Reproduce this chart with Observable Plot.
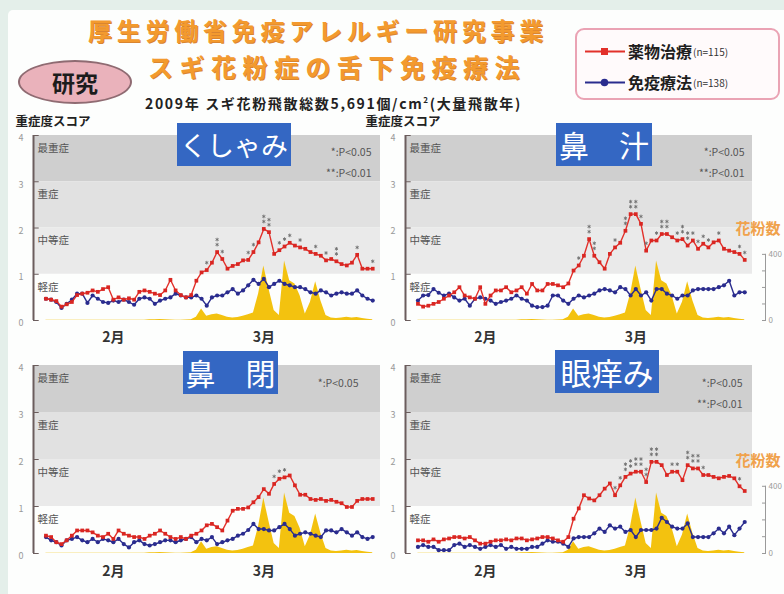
<!DOCTYPE html>
<html lang="ja">
<head>
<meta charset="utf-8">
<script src="https://cdn.jsdelivr.net/npm/d3@7"></script>
<script src="https://cdn.jsdelivr.net/npm/@observablehq/plot@0.6"></script>
<style>
html,body{margin:0;padding:0;background:#e4efea;}
#wrap{position:relative;width:784px;height:594px;overflow:hidden;background:#e4efea;font-family:"Noto Sans CJK JP","Noto Sans",sans-serif;}
#inner{position:absolute;left:8px;top:10px;width:776px;height:584px;background:#fdfefd;border-top-left-radius:5px;}
.abs{position:absolute;white-space:nowrap;}
.t1{left:88px;top:17px;font-size:24px;font-weight:700;color:#f39a2e;line-height:26px;text-shadow:1px 1px 0 #d98530;}
.t2{left:148px;top:52px;font-size:25px;font-weight:700;color:#f39a2e;line-height:28px;text-shadow:1px 1px 0 #d98530;}
.sub{left:145px;top:91px;font-size:14px;font-weight:700;color:#222;line-height:17px;}
.badge{left:18px;top:60px;width:110px;height:40px;border-radius:50%;background:#eab2bb;border:2px solid #8f6b72;text-align:center;line-height:40px;font-size:23px;font-weight:700;color:#1c1c1c;}
.legend{left:575px;top:28px;width:201px;height:68px;border:2px solid #eaa3b4;border-radius:9px;background:#fffafb;}
.lrow{position:absolute;left:8px;height:20px;display:flex;align-items:center;}
.lname{font-size:16px;font-weight:700;color:#1e1e1e;margin-left:3px;}
.ln{font-size:10px;color:#333;margin-left:1px;}
.tbox{background:#3467c3;color:#fff;text-align:center;height:43px;line-height:43px;}
.panel{position:absolute;}
</style>
</head>
<body>
<div id="wrap">
  <div id="inner"></div>
  <div id="plots"></div>
  <div class="abs t1" id="t1">厚生労働省免疫アレルギー研究事業</div>
  <div class="abs t2" id="t2">スギ花粉症の舌下免疫療法</div>
  <div class="abs sub" id="sub">2009年 スギ花粉飛散総数5,691個/cm<sup style="font-size:8px">2</sup>(大量飛散年)</div>
  <div class="abs badge">研究</div>
  <div class="abs legend" id="legend"></div>
  <div id="boxes"></div>
</div>
<script>
// ---------- data ----------
const days = d3.range(64); // daily index from early February
const monthTicks = [13, 42];
const monthLabels = ["2月", "3月"];
const yTicks = [0, 1, 2, 3, 4];

const bandLo = [3, 2, 1];
const bandHi = [4, 3, 2];
const bandFill = ["#cfcfcf", "#e1e1e1", "#eaeaea"];
const severityLabels = ["最重症", "重症", "中等症", "軽症"];
const severityAt = [4, 3, 2, 1];

const seriesNames = ["薬物治療", "免疫療法"];
const seriesN = ["(n=115)", "(n=138)"];
const RED = "#e2302a", BLUE = "#2a2c8e";

// pollen counts (grains/cm2 per day)
const pollen = [2,2,2,2,2,2,2,2,2,2,
  2,2,2,2,2,2,2,2,2,2,
  4,5,6,5,3,2,2,3,5,20,
  70,25,35,40,30,20,15,18,25,35,
  45,160,330,190,60,30,360,240,220,150,
  40,110,235,120,30,15,12,15,20,15,
  18,12,8,5];
const pollenTicks = [0, 100, 200, 300, 400];
const pollenLabelled = [0, 400];
const pollenUnit = 1.43 / 400; // right-axis 400 sits at score 1.43

const kushamiRed = [0.47,0.45,0.42,0.30,0.35,0.40,0.55,0.58,0.60,0.65,
  0.62,0.68,0.72,0.45,0.50,0.45,0.48,0.45,0.62,0.65,
  0.62,0.58,0.55,0.65,0.88,0.65,0.55,0.50,0.55,0.86,
  1.04,1.09,1.25,1.48,1.33,1.12,1.18,1.22,1.30,1.31,
  1.48,1.69,1.98,1.91,1.44,1.52,1.60,1.68,1.62,1.58,
  1.55,1.48,1.44,1.40,1.30,1.33,1.28,1.22,1.19,1.25,
  1.42,1.12,1.12,1.12];
const kushamiBlue = [0.47,0.45,0.40,0.27,0.36,0.45,0.58,0.58,0.38,0.54,
  0.47,0.40,0.38,0.43,0.40,0.45,0.40,0.34,0.47,0.50,
  0.47,0.36,0.43,0.47,0.50,0.58,0.54,0.50,0.50,0.54,
  0.47,0.32,0.50,0.54,0.54,0.61,0.68,0.58,0.65,0.76,
  0.88,0.79,0.90,0.72,0.79,0.86,0.79,0.76,0.72,0.72,
  0.68,0.61,0.58,0.65,0.61,0.54,0.58,0.61,0.58,0.58,
  0.65,0.54,0.47,0.43];
const kushamiSig = [[31,1],[33,2],[34,1],[39,1],[40,1],[42,2],[43,2],[45,1],[46,1],[47,1],[49,1],[52,1],[54,1],[56,2],[60,1],[63,1]];

const hanamizuRed = [0.36,0.30,0.32,0.36,0.40,0.47,0.54,0.61,0.72,0.54,
  0.50,0.47,0.72,0.36,0.54,0.65,0.65,0.72,0.61,0.65,
  0.72,0.58,0.79,0.65,0.65,0.79,0.79,0.76,0.72,0.80,
  1.08,1.19,1.40,1.76,1.40,1.26,1.12,1.44,1.58,1.68,
  1.94,2.30,2.30,2.09,1.51,1.73,1.73,1.87,1.87,1.80,
  1.73,1.76,1.62,1.73,1.55,1.66,1.58,1.69,1.73,1.55,
  1.51,1.48,1.44,1.31];
const hanamizuBlue = [0.43,0.54,0.55,0.68,0.60,0.54,0.58,0.50,0.43,0.47,
  0.32,0.47,0.50,0.47,0.43,0.36,0.40,0.43,0.47,0.54,
  0.47,0.43,0.32,0.29,0.29,0.32,0.54,0.54,0.43,0.36,
  0.47,0.54,0.50,0.54,0.58,0.65,0.68,0.65,0.61,0.72,
  0.68,0.54,0.68,0.54,0.61,0.43,0.68,0.68,0.58,0.54,
  0.47,0.54,0.54,0.65,0.68,0.68,0.68,0.68,0.72,0.76,
  0.86,0.54,0.61,0.61];
const hanamizuSig = [[31,1],[33,2],[34,2],[38,1],[40,2],[41,2],[42,2],[43,1],[44,1],[46,1],[47,2],[48,2],[50,1],[51,2],[52,2],[53,1],[54,1],[55,1],[56,1],[58,1],[62,1],[63,1]];

const hanazumariRed = [0.38,0.35,0.24,0.20,0.28,0.38,0.49,0.49,0.49,0.45,
  0.38,0.35,0.42,0.31,0.49,0.42,0.38,0.35,0.35,0.31,
  0.38,0.42,0.49,0.42,0.35,0.31,0.35,0.31,0.38,0.42,
  0.49,0.60,0.63,0.56,0.49,0.70,0.91,0.95,0.95,0.98,
  1.09,1.20,1.37,1.27,1.48,1.59,1.62,1.66,1.45,1.25,
  1.25,1.16,1.14,1.16,1.12,1.14,1.10,1.07,0.99,0.99,
  1.12,1.16,1.16,1.16];
const hanazumariBlue = [0.35,0.28,0.24,0.17,0.28,0.31,0.35,0.28,0.24,0.31,
  0.24,0.31,0.28,0.24,0.31,0.20,0.13,0.24,0.28,0.20,
  0.17,0.20,0.24,0.28,0.28,0.24,0.28,0.31,0.35,0.24,
  0.31,0.28,0.35,0.20,0.24,0.28,0.31,0.38,0.42,0.50,
  0.63,0.52,0.52,0.49,0.49,0.56,0.63,0.52,0.38,0.42,
  0.45,0.42,0.38,0.35,0.49,0.49,0.45,0.52,0.45,0.38,
  0.45,0.35,0.31,0.35];
const hanazumariSig = [[44,1],[45,1],[46,1]];

const meKayumiRed = [0.28,0.28,0.25,0.30,0.25,0.30,0.32,0.35,0.35,0.32,
  0.35,0.28,0.21,0.21,0.25,0.28,0.28,0.30,0.28,0.32,
  0.32,0.28,0.30,0.32,0.35,0.35,0.32,0.28,0.25,0.35,
  0.74,0.96,1.24,1.17,1.13,1.24,1.38,1.49,1.24,1.45,
  1.63,1.70,1.74,1.74,1.52,1.95,1.95,1.88,1.67,1.74,
  1.74,1.56,1.88,1.81,1.81,1.67,1.67,1.63,1.60,1.63,
  1.65,1.60,1.43,1.33];
const meKayumiBlue = [0.14,0.18,0.14,0.14,0.07,0.07,0.07,0.18,0.21,0.14,
  0.18,0.14,0.10,0.14,0.18,0.14,0.18,0.10,0.14,0.10,
  0.10,0.10,0.14,0.14,0.21,0.28,0.25,0.25,0.21,0.14,
  0.32,0.35,0.35,0.35,0.43,0.53,0.46,0.60,0.53,0.57,
  0.46,0.50,0.35,0.50,0.50,0.50,0.53,0.76,0.67,0.57,
  0.53,0.53,0.64,0.35,0.35,0.35,0.35,0.43,0.53,0.43,
  0.57,0.39,0.53,0.67];
const meKayumiSig = [[38,1],[39,1],[40,2],[41,2],[42,2],[43,2],[44,2],[45,2],[46,2],[49,1],[50,1],[52,2],[53,2],[54,2],[55,1],[62,1]];

const panelTitles = ["くしゃみ", "鼻　汁", "鼻　閉", "眼痒み"];
const pLegend1 = "*:P<0.05";
const pLegend2 = "*:P<0.05\n**:P<0.01";
const yTitle = "重症度スコア";
const pollenTitle = "花粉数";

// ---------- drawing ----------
const X0 = -2.4, X1 = 64.5;
const bands = bandLo.map((lo, k) => ({lo, hi: bandHi[k], fill: bandFill[k]}));
const sevRows = severityLabels.map((label, k) => ({label, y: severityAt[k]}));

function makePanel(cfg) {
  const rows = days.map(i => ({i, red: cfg.red[i], blue: cfg.blue[i], pollen: pollen[i] * pollenUnit}));
  const stars = [];
  cfg.sig.forEach(([i, n]) => { for (let j = 0; j < n; j++) stars.push({i, y: cfg.red[i] + 0.16 + j * 0.11}); });
  const marks = [
    Plot.rect(bands, {y1: "lo", y2: "hi", fill: "fill"}),
    Plot.areaY(rows, {x: "i", y: "pollen", fill: "#f3c20f"}),
    Plot.ruleX([X0], {y1: 0, y2: 4, stroke: "#6b5d5d", strokeWidth: 2}),
    Plot.ruleY(yTicks, {x1: () => X0, x2: () => X0 + 1.1, stroke: "#6b5d5d", strokeWidth: 1}),
    // left score-axis tick labels
    Plot.text(yTicks, {x: () => X0, y: d => d, text: d => String(d), dx: -10, dy: 3, textAnchor: "end", fontSize: 9, fill: "#9a9a9a"}),
    Plot.axisX({ticks: monthTicks, tickFormat: d => monthLabels[monthTicks.indexOf(d)], label: null, tickSize: 0, tickPadding: cfg.monthPad, fontSize: 14, fontWeight: "bold", color: "#333"}),
    Plot.text(sevRows, {x: () => X0, y: "y", text: "label", dx: 4, dy: 13, textAnchor: "start", fontSize: 10.5, fill: "#555"}),
    Plot.line(rows, {x: "i", y: "blue", stroke: BLUE, strokeWidth: 1.4}),
    Plot.dot(rows, {x: "i", y: "blue", r: 2.1, fill: BLUE}),
    Plot.line(rows, {x: "i", y: "red", stroke: RED, strokeWidth: 1.4}),
    Plot.dot(rows, {x: "i", y: "red", symbol: "square", r: 2.1, fill: "#d92622"}),
    Plot.dot(stars, {x: "i", y: "y", symbol: "asterisk", r: 1.7, stroke: "#707070", strokeWidth: 0.9}),
    Plot.text([cfg.pText], {frameAnchor: "top-right", text: d => d, dx: cfg.pDx, dy: cfg.pDy, textAnchor: "end", lineAnchor: "top", lineHeight: 1.95, fontSize: 10.5, fill: "#555"})
  ];
  if (cfg.yTitle) marks.push(Plot.text([yTitle], {frameAnchor: "top-left", text: d => d, dx: cfg.yTitleDx, dy: -13.5, lineAnchor: "middle", textAnchor: "start", fontSize: 12.5, fontWeight: "bold", fill: "#222"}));
  if (cfg.pollenAxis) {
    marks.push(
      Plot.ruleX([X1], {y1: 0, y2: 400 * pollenUnit, dx: 13, stroke: "#9a9a9a"}),
      Plot.axisY({anchor: "right", ticks: pollenTicks.map(g => g * pollenUnit), tickFormat: d => { const g = Math.round(d / pollenUnit); return pollenLabelled.includes(g) ? String(g) : ""; }, label: null, tickSize: 4, dx: 9, tickPadding: 3, fontSize: 8, color: "#9a9a9a"}),
      Plot.text([pollenTitle], {x: () => X1, y: () => 400 * pollenUnit, text: d => d, dx: -17, dy: -25, textAnchor: "start", fontSize: 15, fontWeight: "bold", fill: "#f0a24c"})
    );
  }
  const svg = Plot.plot({
    width: cfg.width, height: cfg.height,
    marginLeft: cfg.mL, marginRight: cfg.mR, marginTop: cfg.mT, marginBottom: cfg.mB,
    x: {domain: [X0, X1]},
    y: {domain: [0, 4], axis: cfg.pollenAxis ? undefined : null},
    color: {type: "identity"},
    style: {background: "transparent", overflow: "visible", fontFamily: "'Noto Sans CJK JP', sans-serif"},
    marks
  });
  const div = document.createElement("div");
  div.className = "panel";
  div.style.left = cfg.left + "px";
  div.style.top = cfg.top + "px";
  div.appendChild(svg);
  document.getElementById("plots").appendChild(div);
}

makePanel({red: kushamiRed, blue: kushamiBlue, sig: kushamiSig, pText: pLegend2, pDx: -9, pDy: 6,
  left: 0, top: 110, width: 390, height: 245, mL: 33, mR: 10, mT: 25, mB: 35, monthPad: 12, yTitle: true, yTitleDx: -18});
makePanel({red: hanamizuRed, blue: hanamizuBlue, sig: hanamizuSig, pText: pLegend2, pDx: -8, pDy: 6,
  left: 390, top: 110, width: 394, height: 245, mL: 15, mR: 32, mT: 25, mB: 35, monthPad: 12, yTitle: true, yTitleDx: -40, pollenAxis: true});
makePanel({red: hanazumariRed, blue: hanazumariBlue, sig: hanazumariSig, pText: pLegend1, pDx: -22, pDy: 7,
  left: 0, top: 342, width: 390, height: 252, mL: 33, mR: 10, mT: 23, mB: 41, monthPad: 13});
makePanel({red: meKayumiRed, blue: meKayumiBlue, sig: meKayumiSig, pText: pLegend2, pDx: -10, pDy: 7,
  left: 390, top: 342, width: 394, height: 252, mL: 15, mR: 32, mT: 23, mB: 41, monthPad: 13, pollenAxis: true});

// panel title boxes
const boxPos = [[177, 123, 114, 27], [556, 123, 96, 30], [183, 351, 95, 30], [555, 350, 104, 31]];
panelTitles.forEach((t, k) => {
  const [l, tp, w, fs] = boxPos[k];
  const b = document.createElement("div");
  b.className = "abs tbox";
  b.style.cssText += `left:${l}px;top:${tp}px;width:${w}px;font-size:${fs}px;`;
  b.textContent = t;
  document.getElementById("boxes").appendChild(b);
});

// legend
const leg = document.getElementById("legend");
seriesNames.forEach((name, k) => {
  const row = document.createElement("div");
  row.className = "lrow";
  row.style.top = (k === 0 ? 11 : 42) + "px";
  const col = k === 0 ? RED : BLUE;
  const mk = k === 0 ? `<rect x="16" y="6" width="7" height="7" fill="${col}"/>` : `<circle cx="19.5" cy="9.5" r="3.8" fill="${col}"/>`;
  row.innerHTML = `<svg width="40" height="19"><line x1="0" y1="9.5" x2="40" y2="9.5" stroke="${col}" stroke-width="2"/>${mk}</svg><span class="lname">${name}</span><span class="ln">${seriesN[k]}</span>`;
  leg.appendChild(row);
});

// stretch heading lines to the reference widths
function fit(id, w) {
  const el = document.getElementById(id);
  const r = el.getBoundingClientRect().width;
  const n = el.textContent.length;
  el.style.letterSpacing = ((w - r) / n) + "px";
}
fit("t1", 460); fit("t2", 378); fit("sub", 377);
</script>
</body>
</html>
